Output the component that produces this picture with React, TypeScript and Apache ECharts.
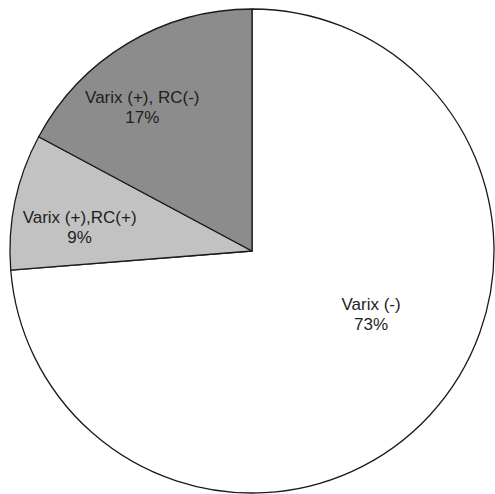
import React, { useEffect, useRef } from "react";
import * as echarts from "echarts";

const categories = ["Varix (-)", "Varix (+),RC(+)", "Varix (+), RC(-)"];
const values = [73, 9, 17];
const colors = ["#ffffff", "#c2c2c2", "#8c8c8c"];
// label nudges (px) relative to the default inside position
const labelNudge = [
  [28, -21],
  [-51, 2],
  [-46, -37],
];

export default function App() {
  const ref = useRef<HTMLDivElement>(null);
  useEffect(() => {
    if (!ref.current) return;
    const chart = echarts.init(ref.current, null, { renderer: "svg" });
    const cx = 252;
    const cy = 251;
    chart.setOption({
      animation: false,
      backgroundColor: "#ffffff",
      series: [
        {
          type: "pie",
          center: [cx, cy],
          radius: [0, 242],
          startAngle: 90,
          clockwise: true,
          silent: true,
          data: categories.map((name, i) => ({
            name,
            value: values[i],
            itemStyle: { color: colors[i] },
          })),
          itemStyle: { borderColor: "#1a1a1a", borderWidth: 1.3 },
          label: {
            show: true,
            position: "inside",
            formatter: "{b}\n{c}%",
            color: "#1e1e1e",
            fontFamily: "Liberation Sans, Arial, sans-serif",
            fontSize: 17,
            lineHeight: 20,
            align: "center",
          },
          labelLine: { show: false },
          labelLayout: (params: any) => {
            const r = params.labelRect;
            const lx = r.x + r.width / 2;
            const ly = r.y + r.height / 2;
            const n = labelNudge[params.dataIndex];
            return {
              x: lx + n[0],
              y: ly + n[1],
              align: "center",
              verticalAlign: "middle",
            };
          },
        },
      ],
    });
    return () => chart.dispose();
  }, []);
  return (
    <div
      ref={ref}
      style={{ position: "absolute", left: 0, top: 0, width: 495, height: 494 }}
    />
  );
}
